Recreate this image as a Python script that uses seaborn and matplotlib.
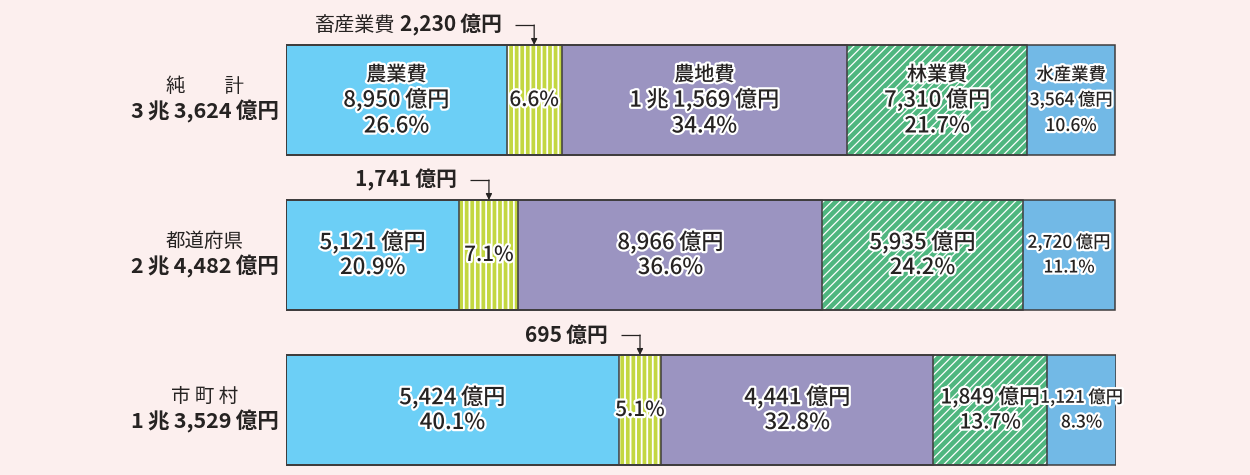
import matplotlib
matplotlib.use("Agg")
import matplotlib.pyplot as plt
import matplotlib.patheffects as pe
import numpy as np
import pandas as pd
import seaborn as sns

# ---- data -----------------------------------------------------------------
rows = ["純計", "都道府県", "市町村"]
row_titles = ["純　　計", "都道府県", "市 町 村"]
row_totals = ["3\u2009兆\u20093,624\u2009億円", "2\u2009兆\u20094,482\u2009億円",
              "1\u2009兆\u20093,529\u2009億円"]
categories = ["農業費", "畜産業費", "農地費", "林業費", "水産業費"]

amounts_net = [8950, 2230, 11569, 7310, 3564]      # 億円
amounts_pref = [5121, 1741, 8966, 5935, 2720]
amounts_muni = [5424, 695, 4441, 1849, 1121]

shares_net = [26.6, 6.6, 34.4, 21.7, 10.6]         # %
shares_pref = [20.9, 7.1, 36.6, 24.2, 11.1]
shares_muni = [40.1, 5.1, 32.8, 13.7, 8.3]

# ---- style ----------------------------------------------------------------
BG = "#fcefee"
INK = "#262322"
EDGE = "#3f3d3d"
colors = ["#6ccff6", "#c3d741", "#9b94c1", "#4fb67f", "#72b9e6"]
hatches = ["", "|||", "", "////", ""]
hatch_lw = [1.0, 1.3, 1.0, 0.9, 1.0]

sns.set_style("white")
plt.rcParams["font.family"] = ["Noto Sans CJK JP", "DejaVu Sans"]

# long table: one record per row x category
records = []
for r, amts, shs in zip(rows, [amounts_net, amounts_pref, amounts_muni],
                        [shares_net, shares_pref, shares_muni]):
    start = 0.0
    for c, a, s in zip(categories, amts, shs):
        records.append(dict(row=r, cat=c, amount=a, share=s,
                            start=start, cum=start + s))
        start += s
df = pd.DataFrame(records)


def yen(v):
    """Format an amount in 億円 using 兆 for the ten-thousands part."""
    cho, oku = divmod(v, 10000)
    if cho:
        return f"{cho}\u2009兆\u2009{oku:,}\u2009億円"
    return f"{oku:,}\u2009億円"


# ---- figure / axes geometry ------------------------------------------------
W_PX, H_PX = 1250, 475
LEFT_PX, RIGHT_PX = 286, 1116
ROW0_PX, ROW_STEP = 100, 155
BAR_PX = 110
PX_X = (RIGHT_PX - LEFT_PX) / 100.0      # pixels per percent
BAR_W = BAR_PX / ROW_STEP

fig = plt.figure(figsize=(W_PX / 100, H_PX / 100), dpi=100)
fig.patch.set_facecolor(BG)
ax = fig.add_axes([LEFT_PX / W_PX, 0, (RIGHT_PX - LEFT_PX) / W_PX, 1])
ax.set_facecolor("none")

# stacked bars: cumulative totals drawn from the outermost segment inwards
for k in reversed(range(len(categories))):
    sub = df[df["cat"] == categories[k]]
    with plt.rc_context({"hatch.linewidth": hatch_lw[k]}):
        sns.barplot(data=sub, x="cum", y="row", order=rows, orient="h",
                    color=colors[k], saturation=1, width=BAR_W,
                    errorbar=None, hatch=hatches[k], edgecolor="white",
                    linewidth=0, ax=ax)

# segment outlines on top
for k in range(len(categories)):
    sub = df[df["cat"] == categories[k]]
    sns.barplot(data=sub, x="cum", y="row", order=rows, orient="h",
                color=EDGE, fill=False, width=BAR_W, errorbar=None,
                linewidth=1.1, ax=ax)

ax.set_xlim(0, 100)
ax.set_ylim((H_PX - ROW0_PX) / ROW_STEP, -ROW0_PX / ROW_STEP)
ax.axis("off")

halo = [pe.withStroke(linewidth=3.2, foreground="white")]


def bar_text(x, y, s, size):
    ax.text(x, y, s, ha="center", va="center", fontsize=size, color=INK,
            fontweight="medium", path_effects=halo)


# ---- labels inside the bars ------------------------------------------------
for i, r in enumerate(rows):
    sub = df[df["row"] == r].reset_index(drop=True)
    for k, rec in sub.iterrows():
        xc = rec["start"] + rec["share"] / 2
        pct = f"{rec['share']:.1f}%"
        if rec["share"] < 12:
            num_size, name_size = 12.5, 12.5
        elif rec["share"] < 15:
            num_size, name_size = 15, 14
        else:
            num_size, name_size = 16, 14.5
        if k == 1:
            bar_text(xc, i, pct, 15)
            continue
        if i == 0:
            lines = [(rec["cat"], name_size), (yen(rec["amount"]), num_size),
                     (pct, num_size)]
            offs = [-25, 0, 26]
        else:
            lines = [(yen(rec["amount"]), num_size), (pct, num_size)]
            offs = [-12.5, 12.5]
        for (s, fs), o in zip(lines, offs):
            bar_text(xc, i + o / ROW_STEP, s, fs)

# ---- callouts for the livestock segment ------------------------------------
for i, r in enumerate(rows):
    rec = df[(df["row"] == r) & (df["cat"] == "畜産業費")].iloc[0]
    xc = rec["start"] + rec["share"] / 2
    top = i - BAR_W / 2
    yl = top - 20 / ROW_STEP
    amt = ax.text(xc - 32 / PX_X, yl, yen(rec["amount"]), ha="right",
                  va="center", fontsize=15, fontweight="bold", color=INK)
    if i == 0:
        ax.annotate("畜産業費", xy=(0, 0.5), xycoords=amt,
                    xytext=(-4, 0), textcoords="offset points",
                    ha="right", va="center", fontsize=14.5, color=INK)
    ax.plot([xc - 19 / PX_X, xc], [yl, yl], color=INK, lw=0.9,
            solid_capstyle="butt")
    ax.annotate("", xy=(xc, top), xytext=(xc, yl),
                arrowprops=dict(arrowstyle="-|>", color=INK, lw=0.9,
                                shrinkA=0, shrinkB=0, mutation_scale=9))

# ---- row headings -----------------------------------------------------------
for i, (t, tot) in enumerate(zip(row_titles, row_totals)):
    yc = ROW0_PX + ROW_STEP * i
    fig.text(205 / W_PX, 1 - (yc - 14) / H_PX, t, ha="center", va="center",
             fontsize=14, color=INK)
    fig.text(205 / W_PX, 1 - (yc + 11) / H_PX, tot, ha="center", va="center",
             fontsize=15.5, fontweight="bold", color=INK)

fig.savefig("out.png", dpi=100, facecolor=BG)
